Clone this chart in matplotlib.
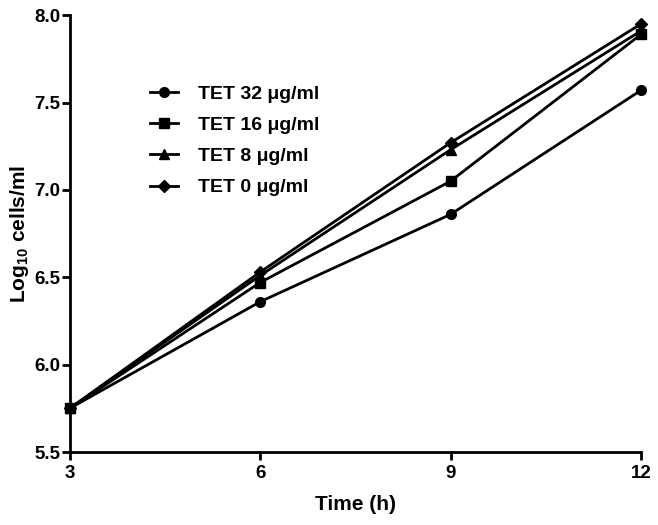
import matplotlib
matplotlib.use('Agg')
import matplotlib.pyplot as plt

# Time points and growth values (log10 cells/ml)
time_h = [3, 6, 9, 12]
tet_32 = [5.75, 6.36, 6.86, 7.57]
tet_16 = [5.75, 6.47, 7.05, 7.89]
tet_8 = [5.75, 6.51, 7.23, 7.91]
tet_0 = [5.75, 6.53, 7.27, 7.95]

labels = ['TET 32 \u03bcg/ml', 'TET 16 \u03bcg/ml', 'TET 8 \u03bcg/ml', 'TET 0 \u03bcg/ml']
markers = ['o', 's', '^', 'D']

plt.rcParams['font.family'] = ['Liberation Sans', 'DejaVu Sans']
plt.rcParams['font.weight'] = 'bold'
plt.rcParams['mathtext.fontset'] = 'custom'
plt.rcParams['mathtext.bf'] = 'Liberation Sans:bold'
plt.rcParams['mathtext.rm'] = 'Liberation Sans:bold'

fig = plt.figure(figsize=(6.58, 5.25), dpi=100)
ax = fig.add_axes([0.106, 0.139, 0.868, 0.832])

series = [tet_32, tet_16, tet_8, tet_0]
sizes = [7, 7, 7, 6.5]
for vals, lab, m, ms in zip(series, labels, markers, sizes):
    ax.plot(time_h, vals, color='black', lw=2, marker=m, markersize=ms, label=lab, clip_on=False)

ax.set_xlim(3, 12)
ax.set_ylim(5.5, 8.0)
ax.set_xticks([3, 6, 9, 12])
ax.set_yticks([5.5, 6.0, 6.5, 7.0, 7.5, 8.0])
ax.set_yticklabels(['5.5', '6.0', '6.5', '7.0', '7.5', '8.0'])

for side in ['top', 'right']:
    ax.spines[side].set_visible(False)
for side in ['left', 'bottom']:
    ax.spines[side].set_linewidth(2)
ax.tick_params(direction='out', length=6, width=2, labelsize=13.5)
ax.tick_params(axis='y', pad=1)
ax.tick_params(axis='x', pad=3)
for t in ax.get_xticklabels() + ax.get_yticklabels():
    t.set_fontweight('bold')

ax.set_xlabel('Time (h)', fontsize=15, fontweight='bold', labelpad=10)
ax.set_ylabel('Log$_{\\mathrm{10}}$ cells/ml', fontsize=15, fontweight='bold')
ax.yaxis.set_label_coords(-0.068, 0.5)

leg = ax.legend(loc='upper left', bbox_to_anchor=(0.11, 0.88), frameon=False,
                fontsize=14, handlelength=1.45, labelspacing=0.7, handletextpad=1.0)
for t in leg.get_texts():
    t.set_fontweight('bold')

fig.savefig('out.png', dpi=100)
